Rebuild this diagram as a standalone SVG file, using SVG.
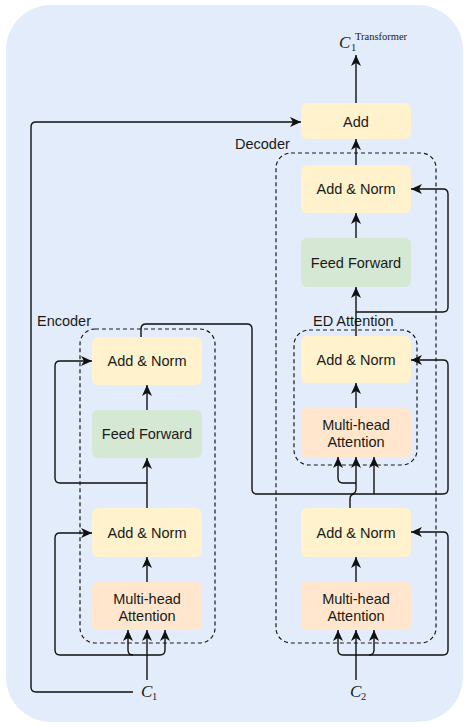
<svg xmlns="http://www.w3.org/2000/svg" width="464" height="727" viewBox="0 0 464 727">
<defs>
<style>
.t{font-family:"Liberation Sans",Arial,sans-serif;font-size:14.5px;fill:#1a1a1a;text-anchor:middle}
.l{font-family:"Liberation Sans",Arial,sans-serif;font-size:14.5px;fill:#1a1a1a}
.m{font-family:"Liberation Serif","Times New Roman",serif;fill:#1a1a1a}
.an{fill:#fff2cc}
.ff{fill:#d5e8d4}
.mh{fill:#ffe6cc}
.grp{fill:none;stroke:#1a1a1a;stroke-width:1.2;stroke-dasharray:4 3}
.c{fill:none;stroke:#111;stroke-width:1.4}
.a{marker-end:url(#arr)}
</style>
<marker id="arr" markerUnits="userSpaceOnUse" markerWidth="12" markerHeight="10" viewBox="0 0 12 10" refX="11" refY="5" orient="auto">
<path d="M0,0 L11,5 L0,10 L3,5 z" fill="#111"/>
</marker>
</defs>
<rect x="6" y="5" width="457" height="717" rx="45" fill="#e3ecfb"/>

<g id="encoder-group">
<rect class="grp" x="80" y="329" width="135" height="314" rx="15"/>
<text class="l" x="37" y="326">Encoder</text>
</g>
<g id="decoder-group">
<rect class="grp" x="276" y="153" width="160" height="490" rx="15"/>
<text class="l" x="235" y="149">Decoder</text>
</g>
<g id="ed-group">
<rect class="grp" x="294" y="330" width="123" height="135" rx="15"/>
<text class="l" x="313" y="326">ED Attention</text>
</g>

<g id="add">
<rect class="an" x="301" y="103" width="110" height="36" rx="6"/>
<text class="t" x="356" y="126.5">Add</text>
</g>
<g id="dec-an2">
<rect class="an" x="301" y="165" width="110" height="48" rx="6"/>
<text class="t" x="356" y="194">Add &amp; Norm</text>
</g>
<g id="dec-ff">
<rect class="ff" x="301" y="238" width="110" height="49" rx="6"/>
<text class="t" x="356" y="267.5">Feed Forward</text>
</g>
<g id="ed-an">
<rect class="an" x="301" y="336" width="110" height="47" rx="6"/>
<text class="t" x="356" y="364.5">Add &amp; Norm</text>
</g>
<g id="ed-mh">
<rect class="mh" x="301" y="408" width="110" height="49" rx="6"/>
<text class="t" x="356" y="430">Multi-head</text>
<text class="t" x="356" y="447">Attention</text>
</g>
<g id="dec-an1">
<rect class="an" x="301" y="508" width="110" height="49" rx="6"/>
<text class="t" x="356" y="537.5">Add &amp; Norm</text>
</g>
<g id="dec-mh">
<rect class="mh" x="301" y="582" width="110" height="48" rx="6"/>
<text class="t" x="356" y="604">Multi-head</text>
<text class="t" x="356" y="621">Attention</text>
</g>

<g id="enc-an2">
<rect class="an" x="92" y="337" width="110" height="48" rx="6"/>
<text class="t" x="147" y="366">Add &amp; Norm</text>
</g>
<g id="enc-ff">
<rect class="ff" x="92" y="410" width="110" height="48" rx="6"/>
<text class="t" x="147" y="439">Feed Forward</text>
</g>
<g id="enc-an1">
<rect class="an" x="92" y="508" width="110" height="49" rx="6"/>
<text class="t" x="147" y="537.5">Add &amp; Norm</text>
</g>
<g id="enc-mh">
<rect class="mh" x="92" y="582" width="110" height="48" rx="6"/>
<text class="t" x="147" y="604">Multi-head</text>
<text class="t" x="147" y="621">Attention</text>
</g>

<g id="c1">
<text class="m" x="141" y="697" font-size="17" font-style="italic">C</text>
<text class="m" x="152" y="700" font-size="10.5">1</text>
</g>
<g id="c2">
<text class="m" x="350" y="697" font-size="17" font-style="italic">C</text>
<text class="m" x="361" y="700" font-size="10.5">2</text>
</g>
<g id="out">
<text class="m" x="339" y="48" font-size="17" font-style="italic">C</text>
<text class="m" x="351" y="51" font-size="10.5">1</text>
<text class="m" x="355" y="40" font-size="10.5">Transformer</text>
</g>

<g id="connectors">
<path class="c a" d="M356,103 L356,55"/>
<path class="c a" d="M356,165 L356,139"/>
<path class="c a" d="M356,238 L356,213"/>
<path class="c a" d="M356,336 L356,287"/>
<path class="c a" d="M356,312 L443,312 Q448,312 448,307 L448,194 Q448,189 443,189 L411,189"/>
<path class="c a" d="M356,408 L356,383"/>
<path class="c a" d="M141,337 L141,329 Q141,324 146,324 L247,324 Q252,324 252,329 L252,489 Q252,494 257,494 L351,494 Q356,494 356,489 L356,457"/>
<path class="c a" d="M356,483 L343,483 Q338,483 338,478 L338,457"/>
<path class="c a" d="M350,508 L350,499 Q350,494 355,494 L443,494 Q448,494 448,489 L448,365 Q448,360 443,360 L411,360"/>
<path class="c a" d="M374,494 L374,457"/>
<path class="c a" d="M356,582 L356,557"/>
<path class="c a" d="M356,680 L356,630"/>
<path class="c a" d="M356,655 L343,655 Q338,655 338,650 L338,630"/>
<path class="c a" d="M356,655 L369,655 Q374,655 374,650 L374,630"/>
<path class="c a" d="M369,655 L443,655 Q448,655 448,650 L448,537 Q448,532 443,532 L411,532"/>

<path class="c a" d="M147,582 L147,557"/>
<path class="c a" d="M147,680 L147,630"/>
<path class="c a" d="M147,655 L133,655 Q128,655 128,650 L128,630"/>
<path class="c a" d="M147,655 L160,655 Q165,655 165,650 L165,630"/>
<path class="c a" d="M133,655 L60,655 Q55,655 55,650 L55,538 Q55,533 60,533 L92,533"/>
<path class="c a" d="M147,508 L147,458"/>
<path class="c a" d="M147,483 L60,483 Q55,483 55,478 L55,366 Q55,361 60,361 L92,361"/>
<path class="c a" d="M147,410 L147,385"/>
<path class="c a" d="M133,692 L36,692 Q31,692 31,687 L31,127 Q31,122 36,122 L301,122"/>
</g>
</svg>
